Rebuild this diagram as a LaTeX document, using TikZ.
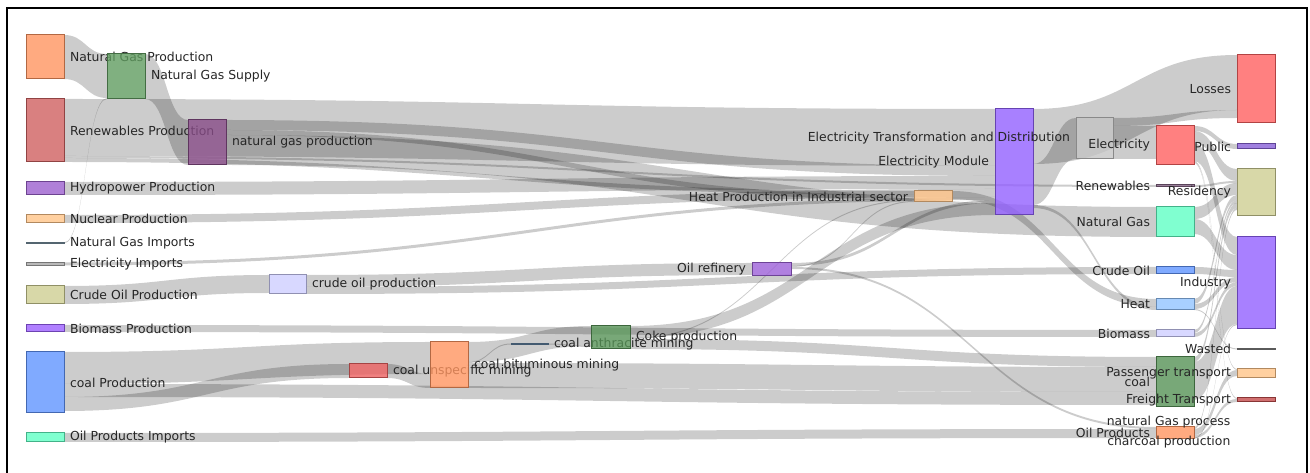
\documentclass[tikz,border=0pt]{standalone}
\usepackage{fontspec}
\setmainfont{DejaVu Sans}
\usetikzlibrary{calc}
\pgfdeclarelayer{bg}
\pgfsetlayers{bg,main}
\definecolor{cNGP}{HTML}{FF9560}
\definecolor{cRP}{HTML}{CF6060}
\definecolor{cHP}{HTML}{9C60CE}
\definecolor{cNP}{HTML}{FFC488}
\definecolor{cNGI}{HTML}{7890A0}
\definecolor{cEI}{HTML}{A8A8A8}
\definecolor{cCOP}{HTML}{CECE92}
\definecolor{cBP}{HTML}{9C60FF}
\definecolor{cCP}{HTML}{6095FF}
\definecolor{cOPI}{HTML}{60FFC4}
\definecolor{cNGS}{HTML}{609C60}
\definecolor{cGPR}{HTML}{884C88}
\definecolor{cCOPR}{HTML}{CECEFF}
\definecolor{cCUM}{HTML}{EC6060}
\definecolor{cCAM}{HTML}{6080A0}
\definecolor{cCOKE}{HTML}{569256}
\definecolor{cOREF}{HTML}{9C60D8}
\definecolor{cETD}{HTML}{9260FF}
\definecolor{cGRAY}{HTML}{C4C4C4}
\definecolor{cRED}{HTML}{FF6060}
\definecolor{cREN}{HTML}{806080}
\definecolor{cHEAT}{HTML}{92C4FF}
\definecolor{cPUB}{HTML}{8860D8}
\definecolor{cFT}{HTML}{C44C4C}
\definecolor{cWAST}{HTML}{808080}
\newcommand\lblfont{\fontsize{9.3}{11}\selectfont}
\tikzset{
  box/.style={rectangle, inner sep=0pt, outer sep=0pt, line width=0.75pt,
    fill opacity=0.8},
  flow/.style={fill=black, fill opacity=0.2},
  every label/.style={font=\lblfont, inner sep=0pt, outer sep=4.5pt, text=black!85,
    fill opacity=1, text opacity=1},
}
% name, x1, y1, x2, y2, colour, extra options
\newcommand\sknode[7]{\node[box,fill=#6,draw=#6!70!black,anchor=north west,
  minimum width={(#4-#2)*0.75pt},minimum height={(#5-#3)*0.75pt},#7] (#1) at (#2,#3) {};}
% source, source offset, width, target, target offset
\newcommand\skflow[5]{\path[flow] let \p1=($(#1.north east)+(0,#2)$),
  \p2=($(#4.north west)+(0,#5)$), \n1={0.5*(\x1+\x2)}, \n2={#3*0.75pt} in
  (\p1) .. controls (\n1,\y1) and (\n1,\y2) .. (\p2)
  -- (\x2,\y2-\n2) .. controls (\n1,\y2-\n2) and (\n1,\y1-\n2) .. (\x1,\y1-\n2)
  -- cycle;}
\begin{document}
\begin{tikzpicture}[x=0.75pt,y=-0.75pt]
\useasboundingbox (0,0) rectangle (1310,473);
\draw[line width=1.5pt] (7,473) -- (7,8) -- (1307,8) -- (1307,473);

% column 1
\sknode{NGP}{26}{35}{64}{79}{cNGP}{label={east:Natural Gas Production}}
\sknode{RP}{26}{99}{64}{162}{cRP}{label={east:Renewables Production}}
\sknode{HP}{26}{182}{64}{195}{cHP}{label={east:Hydropower Production}}
\sknode{NP}{26}{215}{64}{223}{cNP}{label={east:Nuclear Production}}
\sknode{NGI}{26}{242.5}{64}{243.5}{cNGI}{label={east:Natural Gas Imports}}
\sknode{EI}{26}{262.5}{64}{265.5}{cEI}{label={east:Electricity Imports}}
\sknode{COP}{26}{286}{64}{304}{cCOP}{label={east:Crude Oil Production}}
\sknode{BP}{26}{325}{64}{332}{cBP}{label={east:Biomass Production}}
\sknode{CP}{26}{352}{64}{413}{cCP}{label={east:coal Production}}
\sknode{OPI}{26}{433}{64}{442}{cOPI}{label={east:Oil Products Imports}}
% middle
\sknode{NGS}{107}{54}{145}{99}{cNGS}{label={east:Natural Gas Supply}}
\sknode{GPR}{188}{120}{226}{165}{cGPR}{label={east:natural gas production}}
\sknode{COPR}{269}{275}{306}{294}{cCOPR}{label={east:crude oil production}}
\sknode{CUM}{349}{364}{387}{378}{cCUM}{label={east:coal unspecific mining}}
\sknode{CBM}{430}{342}{468}{388}{cNGP}{label={east:coal bituminous mining}}
\sknode{CAM}{511}{343.5}{548}{344.5}{cCAM}{label={east:coal anthracite mining}}
\sknode{COKE}{591}{326}{630}{349}{cCOKE}{label={east:Coke production}}
\sknode{OREF}{752}{263}{791}{276}{cOREF}{label={west:Oil refinery}}
\sknode{HPI}{914}{191}{952}{202}{cNP}{label={west:Heat Production in Industrial sector}}
\sknode{ETD}{995}{109}{1033}{215}{cETD}{label={west:Electricity Module}}
\sknode{GRAY}{1076}{118}{1113}{159}{cGRAY}{label={west:Electricity Transformation and Distribution}}
% column of carriers
\sknode{EL}{1156}{126}{1194}{165}{cRED}{label={west:Electricity}}
\sknode{REN}{1156}{185}{1194}{187}{cREN}{label={west:Renewables}}
\sknode{NG}{1156}{207}{1194}{237}{cOPI}{label={west:Natural Gas}}
\sknode{CO}{1156}{267}{1194}{274}{cCP}{label={west:Crude Oil}}
\sknode{HEAT}{1156}{299}{1194}{310}{cHEAT}{label={west:Heat}}
\sknode{BIO}{1156}{330}{1194}{337}{cCOPR}{label={west:Biomass}}
\sknode{COAL}{1156}{357}{1194}{407}{cCOKE}{label={west:coal}}
\sknode{OP}{1156}{427}{1194}{439}{cNGP}{label={west:Oil Products}}
% final column
\sknode{LOSS}{1237}{55}{1275}{123}{cRED}{label={west:Losses}}
\sknode{PUB}{1237}{144}{1275}{149}{cPUB}{label={west:Public}}
\sknode{RES}{1237}{169}{1275}{216}{cCOP}{label={west:Residency}}
\sknode{IND}{1237}{237}{1275}{329}{cETD}{label={west:Industry}}
\sknode{WAST}{1237}{348.5}{1275}{349.5}{cWAST}{label={west:Wasted}}
\sknode{PT}{1237}{369}{1275}{378}{cNP}{label={west:Passenger transport}}
\sknode{FT}{1237}{398}{1275}{402}{cFT}{label={west:Freight Transport}}
\node[box,label={west:natural Gas process}] (NGPROC) at (1237,422) {};
\node[box,label={west:charcoal production}] (CHAR) at (1237,442) {};

\begin{pgfonlayer}{bg}
\skflow{NGP}{0}{44}{NGS}{0}
\skflow{NGI}{0}{1}{NGS}{44}
\skflow{NGS}{0}{45}{GPR}{0}
\skflow{RP}{0}{57}{ETD}{0}
\skflow{RP}{57}{2}{REN}{0}
\skflow{RP}{59}{4}{HPI}{0}
\skflow{GPR}{0}{10}{ETD}{57}
\skflow{GPR}{10}{5}{HPI}{4}
\skflow{GPR}{15}{30}{NG}{0}
\skflow{HP}{0}{13}{ETD}{67}
\skflow{NP}{0}{8}{ETD}{80}
\skflow{EI}{0}{3}{ETD}{88}
\skflow{COP}{0}{18}{COPR}{0}
\skflow{COPR}{0}{12}{OREF}{0}
\skflow{COPR}{12}{7}{CO}{0}
\skflow{OREF}{0}{3}{ETD}{91}
\skflow{OREF}{3}{1}{HPI}{10}
\skflow{OREF}{4}{2}{OP}{0}
\skflow{BP}{0}{7}{BIO}{0}
\skflow{CP}{0}{32}{CBM}{0}
\skflow{CP}{32}{13}{COAL}{35}
\skflow{CP}{45}{14}{CUM}{0}
\skflow{CUM}{0}{14}{CBM}{32}
\skflow{CBM}{0}{20}{COKE}{0}
\skflow{CBM}{20}{1}{CAM}{0}
\skflow{CBM}{21}{25}{COAL}{10}
\skflow{CAM}{0}{1}{COKE}{20}
\skflow{COKE}{0}{12}{ETD}{94}
\skflow{COKE}{12}{1}{HPI}{9}
\skflow{COKE}{13}{10}{COAL}{0}
\skflow{OPI}{0}{9}{OP}{2}
\skflow{HPI}{0}{8}{HEAT}{0}
\skflow{ETD}{0}{55}{LOSS}{0}
\skflow{ETD}{55}{41}{GRAY}{0}
\skflow{ETD}{96}{3}{HEAT}{8}
\skflow{GRAY}{0}{8}{LOSS}{55}
\skflow{GRAY}{8}{33}{EL}{0}
\skflow{EL}{0}{5}{PUB}{0}
\skflow{EL}{5}{12}{RES}{0}
\skflow{EL}{17}{18}{IND}{0}
\skflow{EL}{35}{1}{PT}{0}
\skflow{EL}{36}{1}{FT}{0}
\skflow{REN}{0}{2}{RES}{12}
\skflow{NG}{0}{12}{RES}{14}
\skflow{NG}{12}{15}{IND}{18}
\skflow{CO}{0}{7}{IND}{33}
\skflow{HEAT}{0}{5}{RES}{26}
\skflow{HEAT}{5}{5}{IND}{40}
\skflow{HEAT}{10}{1}{WAST}{0}
\skflow{BIO}{0}{3}{RES}{31}
\skflow{BIO}{3}{4}{IND}{45}
\skflow{COAL}{0}{5}{RES}{34}
\skflow{COAL}{5}{38}{IND}{49}
\skflow{OP}{0}{2}{RES}{39}
\skflow{OP}{2}{6}{PT}{1}
\skflow{OP}{8}{3}{FT}{1}
\skflow{OP}{11}{1}{IND}{87}
\end{pgfonlayer}
\end{tikzpicture}
\end{document}
